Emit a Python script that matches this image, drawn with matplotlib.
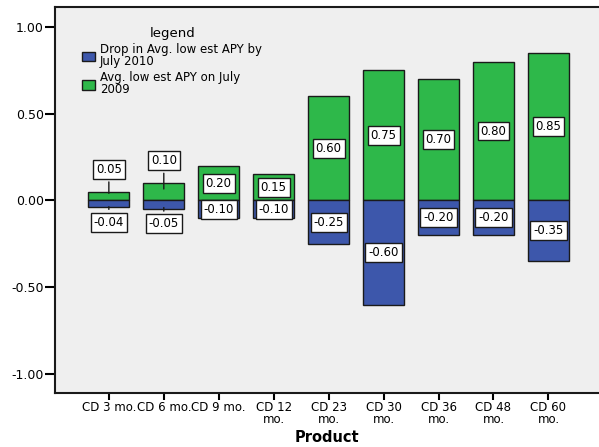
import matplotlib.pyplot as plt
from matplotlib.patches import Patch

products = ['CD 3 mo.', 'CD 6 mo.', 'CD 9 mo.', 'CD 12\nmo.', 'CD 23\nmo.',
            'CD 30\nmo.', 'CD 36\nmo.', 'CD 48\nmo.', 'CD 60\nmo.']
apy_2009 = [0.05, 0.10, 0.20, 0.15, 0.60, 0.75, 0.70, 0.80, 0.85]
drop_2010 = [-0.04, -0.05, -0.10, -0.10, -0.25, -0.60, -0.20, -0.20, -0.35]

green = '#2EB84A'
blue = '#3D57AB'

fig = plt.figure(figsize=(5.99, 4.47), dpi=100)
ax = fig.add_axes([55 / 599, 54 / 447, 544 / 599, 386 / 447])
ax.set_facecolor('#EFEFEF')

x = list(range(len(products)))
ax.bar(x, apy_2009, width=0.75, color=green, edgecolor='#1a1a1a', linewidth=1)
ax.bar(x, drop_2010, width=0.75, color=blue, edgecolor='#1a1a1a', linewidth=1)

box = dict(boxstyle='square,pad=0.25', fc='white', ec='#1a1a1a', lw=1)
for i in x:
    g, b = apy_2009[i], drop_2010[i]
    # small segments get their label pushed outside with a leader line
    if g < 0.12:
        ax.annotate(f'{g:.2f}', xy=(i, g / 2), xytext=(i, g + 0.13), ha='center', va='center',
                    fontsize=8.5, bbox=box, arrowprops=dict(arrowstyle='-', color='#1a1a1a', lw=1))
    else:
        ax.text(i, g / 2, f'{g:.2f}', ha='center', va='center', fontsize=8.5, bbox=box)
    if b > -0.08:
        ax.annotate(f'{b:.2f}', xy=(i, b / 2), xytext=(i, b - 0.085), ha='center', va='center',
                    fontsize=8.5, bbox=box, arrowprops=dict(arrowstyle='-', color='#1a1a1a', lw=1))
    else:
        ax.text(i, b / 2, f'{b:.2f}', ha='center', va='center', fontsize=8.5, bbox=box)

ax.set_xlim(-0.98, 8.92)
ax.set_ylim(-1.11, 1.115)
ax.set_yticks([-1.0, -0.5, 0.0, 0.5, 1.0])
ax.set_yticklabels(['-1.00', '-0.50', '0.00', '0.50', '1.00'], fontsize=9)
ax.set_xticks(x)
ax.set_xticklabels(products, fontsize=8.5, linespacing=0.85)
ax.tick_params(axis='y', length=7, width=1.5, pad=1)
ax.tick_params(axis='x', length=5, width=1.5, pad=1)
ax.set_xlabel('Product', fontsize=10.5, fontweight='bold', labelpad=3)

for side in ['left', 'bottom', 'top']:
    ax.spines[side].set_linewidth(1.5)
    ax.spines[side].set_color('#1a1a1a')
ax.spines['right'].set_visible(False)

handles = [Patch(fc=blue, ec='#1a1a1a'), Patch(fc=green, ec='#1a1a1a')]
labels = ['Drop in Avg. low est APY by\nJuly 2010', 'Avg. low est APY on July\n2009']
leg = ax.legend(handles, labels, title='legend', loc='upper left', bbox_to_anchor=(0.035, 0.97),
                frameon=False, fontsize=8.5, title_fontsize=9.5, handlelength=1.1, handleheight=0.9,
                handletextpad=0.4, labelspacing=0.3, borderpad=0.2)
for t in leg.get_texts():
    t.set_linespacing(0.85)

fig.savefig('out.png', dpi=100)
